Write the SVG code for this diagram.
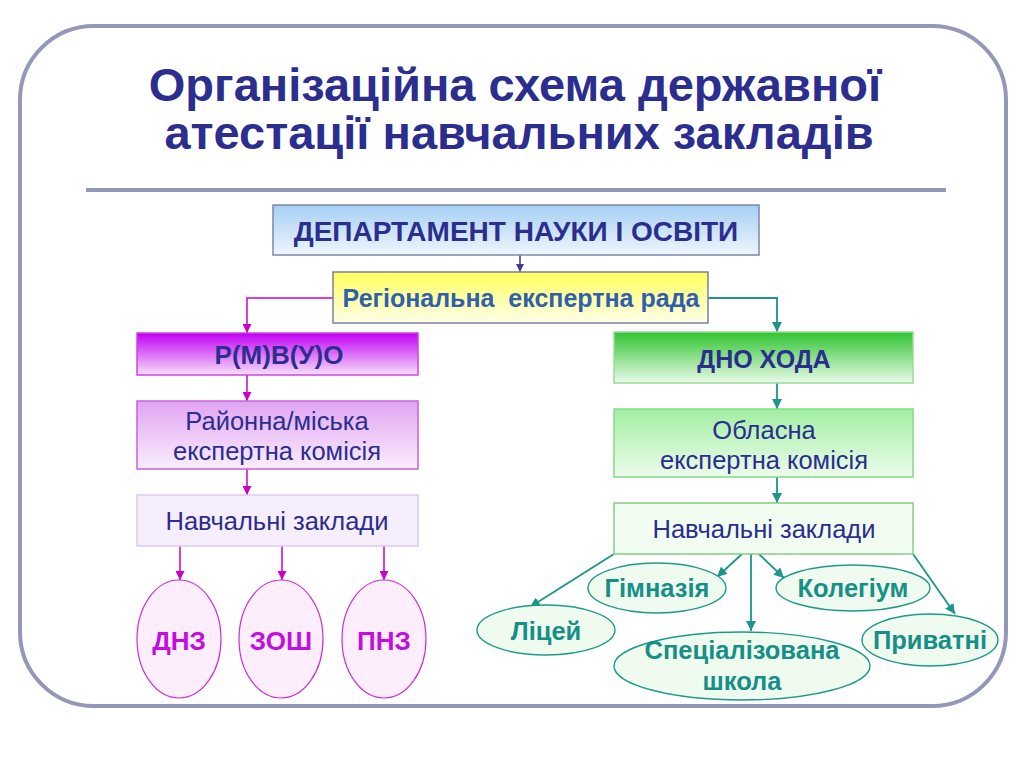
<svg xmlns="http://www.w3.org/2000/svg" width="1024" height="768" viewBox="0 0 1024 768">
<defs>
<linearGradient id="gDept" x1="0" y1="0" x2="0" y2="1"><stop offset="0" stop-color="#A6CFF4"/><stop offset="1" stop-color="#EEF6FD"/></linearGradient>
<linearGradient id="gReg" x1="0" y1="0" x2="0" y2="1"><stop offset="0" stop-color="#FFFF5C"/><stop offset="1" stop-color="#FFFFEA"/></linearGradient>
<linearGradient id="gRmv" x1="0" y1="0" x2="0" y2="1"><stop offset="0" stop-color="#C200F4"/><stop offset="1" stop-color="#F7E0FB"/></linearGradient>
<linearGradient id="gRay" x1="0" y1="0" x2="0" y2="1"><stop offset="0" stop-color="#E0A4F2"/><stop offset="1" stop-color="#FAEEFD"/></linearGradient>
<linearGradient id="gDno" x1="0" y1="0" x2="0" y2="1"><stop offset="0" stop-color="#2FC42F"/><stop offset="1" stop-color="#EAFAEA"/></linearGradient>
<linearGradient id="gObl" x1="0" y1="0" x2="0" y2="1"><stop offset="0" stop-color="#A2EFA2"/><stop offset="1" stop-color="#EDFCED"/></linearGradient>
<marker id="aNavy" viewBox="0 0 10 10" refX="10" refY="5" markerWidth="8" markerHeight="8" markerUnits="userSpaceOnUse" orient="auto"><path d="M0,0 L10,5 L0,10 Z" fill="#3A3A9A"/></marker>
<marker id="aMag" viewBox="0 0 10 10" refX="10" refY="5" markerWidth="9" markerHeight="9" markerUnits="userSpaceOnUse" orient="auto"><path d="M0,0 L10,5 L0,10 Z" fill="#CC00CC"/></marker>
<marker id="aTeal" viewBox="0 0 10 10" refX="10" refY="5" markerWidth="10" markerHeight="10" markerUnits="userSpaceOnUse" orient="auto"><path d="M0,0 L10,5 L0,10 Z" fill="#1A968A"/></marker>
</defs>
<style>
.title{font-family:"Liberation Sans",Arial,sans-serif;font-weight:bold;font-size:47px;fill:#2B2D8F;text-anchor:middle}
.t{font-family:"Liberation Sans",Arial,sans-serif;text-anchor:middle;fill:#2B2D8F}
.b{font-weight:bold}
.n{font-size:25.5px}
.mag{fill:#C20EE0;font-weight:bold;font-size:26px}
.teal{fill:#168F87;font-weight:bold;font-size:25.5px}
.lm{stroke:#CC00CC;stroke-width:1.5;fill:none}
.lt{stroke:#1A968A;stroke-width:1.8;fill:none}
.em{fill:#FDEEFD;stroke:#C830D8;stroke-width:1.2}
.et{fill:#EFFBEF;stroke:#1E9A8C;stroke-width:1.4}
</style>
<rect x="20" y="26" width="986" height="680" rx="74" ry="74" fill="#FFFFFF" stroke="#9597B9" stroke-width="4"/>
<text class="title" x="515" y="101">Організаційна схема державної</text>
<text class="title" x="519" y="149">атестації навчальних закладів</text>
<line x1="86" y1="190" x2="946" y2="190" stroke="#9597B9" stroke-width="4"/>

<g id="connectors">
<line x1="520" y1="255" x2="520" y2="272" stroke="#3A3A9A" stroke-width="1.5" marker-end="url(#aNavy)"/>
<polyline class="lm" points="333,298 247,298 247,333" marker-end="url(#aMag)"/>
<polyline class="lt" points="708,298 777,298 777,332" marker-end="url(#aTeal)"/>
<line class="lm" x1="247" y1="375" x2="247" y2="401" marker-end="url(#aMag)"/>
<line class="lm" x1="247" y1="469" x2="247" y2="495" marker-end="url(#aMag)"/>
<line class="lm" x1="180" y1="546" x2="180" y2="580" marker-end="url(#aMag)"/>
<line class="lm" x1="282" y1="546" x2="282" y2="580" marker-end="url(#aMag)"/>
<line class="lm" x1="384" y1="546" x2="384" y2="580" marker-end="url(#aMag)"/>
<line class="lt" x1="777" y1="383" x2="777" y2="409" marker-end="url(#aTeal)"/>
<line class="lt" x1="777" y1="477" x2="777" y2="503" marker-end="url(#aTeal)"/>
<line class="lt" x1="614" y1="554" x2="530" y2="607" marker-end="url(#aTeal)"/>
<line class="lt" x1="742" y1="554" x2="717" y2="577" marker-end="url(#aTeal)"/>
<line class="lt" x1="751" y1="554" x2="751" y2="631" marker-end="url(#aTeal)"/>
<line class="lt" x1="759" y1="554" x2="784" y2="578" marker-end="url(#aTeal)"/>
<line class="lt" x1="913" y1="554" x2="955" y2="614" marker-end="url(#aTeal)"/>
</g>

<g id="dept">
<rect x="273" y="205" width="486" height="50" fill="url(#gDept)" stroke="#7F86A8" stroke-width="1.5"/>
<text class="t b" x="516" y="241" font-size="28">ДЕПАРТАМЕНТ НАУКИ І ОСВІТИ</text>
</g>
<g id="reg">
<rect x="333" y="272" width="375" height="51" fill="url(#gReg)" stroke="#7F7FA0" stroke-width="1.5"/>
<text class="t b" x="521" y="307" font-size="25" style="fill:#2F5FAD" xml:space="preserve">Регіональна  експертна рада</text>
</g>
<g id="rmvuo">
<rect x="137" y="333" width="281" height="42" fill="url(#gRmv)" stroke="#CC44DD" stroke-width="1.5"/>
<text class="t b" x="279" y="364" font-size="26">Р(М)В(У)О</text>
</g>
<g id="rayon">
<rect x="137" y="401" width="281" height="68" fill="url(#gRay)" stroke="#C860DA" stroke-width="1.5"/>
<text class="t n" x="277" y="430">Районна/міська</text>
<text class="t n" x="277" y="460">експертна комісія</text>
</g>
<g id="navch-left">
<rect x="137" y="495" width="281" height="51" fill="#F6EEFC" stroke="#DCCCEC" stroke-width="1.5"/>
<text class="t n" x="277" y="530">Навчальні заклади</text>
</g>
<g id="dnz">
<ellipse class="em" cx="179" cy="639" rx="42" ry="59"/>
<text class="t mag" x="179" y="650">ДНЗ</text>
</g>
<g id="zosh">
<ellipse class="em" cx="281" cy="639" rx="42" ry="59"/>
<text class="t mag" x="281" y="650">ЗОШ</text>
</g>
<g id="pnz">
<ellipse class="em" cx="384" cy="639" rx="42" ry="59"/>
<text class="t mag" x="384" y="650">ПНЗ</text>
</g>

<g id="dno">
<rect x="614" y="332" width="299" height="51" fill="url(#gDno)" stroke="#9ADB9A" stroke-width="1.5"/>
<text class="t b" x="764" y="368" font-size="25">ДНО ХОДА</text>
</g>
<g id="obl">
<rect x="614" y="409" width="299" height="68" fill="url(#gObl)" stroke="#86DA86" stroke-width="1.5"/>
<text class="t n" x="764" y="439">Обласна</text>
<text class="t n" x="764" y="469">експертна комісія</text>
</g>
<g id="navch-right">
<rect x="614" y="503" width="299" height="51" fill="#F1FDF1" stroke="#86CC86" stroke-width="1.5"/>
<text class="t n" x="764" y="538">Навчальні заклади</text>
</g>
<g id="gymn">
<ellipse class="et" cx="657" cy="588" rx="69" ry="25"/>
<text class="t teal" x="657" y="597">Гімназія</text>
</g>
<g id="koleg">
<ellipse class="et" cx="853" cy="588" rx="77" ry="23"/>
<text class="t teal" x="853" y="597">Колегіум</text>
</g>
<g id="licey">
<ellipse class="et" cx="546" cy="630" rx="69" ry="25"/>
<text class="t teal" x="546" y="640">Ліцей</text>
</g>
<g id="spec">
<ellipse class="et" cx="742" cy="666" rx="128" ry="34"/>
<text class="t teal" x="742" y="659">Спеціалізована</text>
<text class="t teal" x="742" y="690">школа</text>
</g>
<g id="pryv">
<ellipse class="et" cx="930" cy="640" rx="68" ry="26"/>
<text class="t teal" x="930" y="649">Приватні</text>
</g>
</svg>
